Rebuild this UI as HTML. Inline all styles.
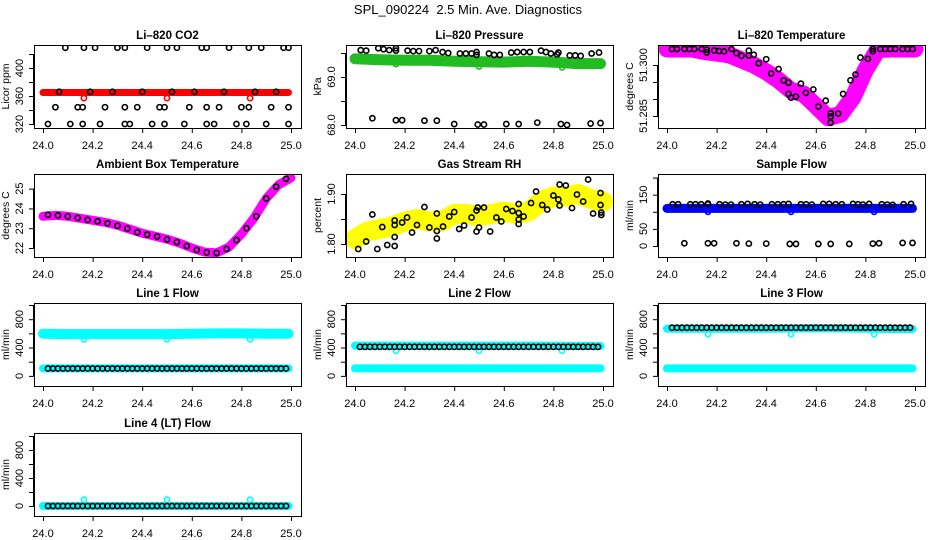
<!DOCTYPE html>
<html><head><meta charset="utf-8"><style>
html,body{margin:0;padding:0;background:#fff;}
svg{display:block;font-family:"Liberation Sans",sans-serif;}
</style></head><body>
<svg id="chart" width="936" height="540" viewBox="0 0 936 540" xmlns="http://www.w3.org/2000/svg">
<text x="468" y="14" text-anchor="middle" font-size="13">SPL_090224&#160; 2.5 Min. Ave. Diagnostics</text>
</svg>
<script>
const xTicks=[24.0,24.2,24.4,24.6,24.8,25.0];
const band11T=[24.0,24.1,24.2,24.3,24.4,24.5,24.6,24.7,24.8,24.9,24.99];
const band21T=[24.0,24.05,24.1,24.15,24.2,24.25,24.3,24.35,24.4,24.45,24.5,24.55,24.6,24.65,24.7,24.75,24.8,24.85,24.9,24.95,25.0];
const outlierT=[24.165,24.5,24.835];

// CO2
const co2Band=[365,365,365,365,365,365,365,365,365,365,365];
const co2Outlier=[357,357,357];
const co2BlackT=[24.09,24.165,24.21,24.30,24.33,24.42,24.50,24.54,24.64,24.66,24.75,24.83,24.88,24.97,24.99,
24.065,24.19,24.28,24.40,24.52,24.61,24.73,24.855,24.94,
24.05,24.14,24.16,24.25,24.33,24.38,24.47,24.49,24.59,24.66,24.71,24.80,24.83,24.92,24.99,
24.02,24.11,24.16,24.23,24.33,24.35,24.44,24.49,24.57,24.66,24.69,24.78,24.82,24.90,24.99];
const co2BlackV=[429,429,429,429,429,429,429,429,429,429,429,429,429,429,429,
366,366,366,366,366,366,366,366,366,
344,344,344,344,344,344,344,344,344,344,344,344,344,344,344,
320,320,320,320,320,320,320,320,320,320,320,320,320,320,320];

// Pressure
const presBand=[69.38,69.36,69.35,69.35,69.33,69.32,69.31,69.33,69.31,69.28,69.28];
const presOutlier=[69.27,69.22,69.2];
const presBlackT=[24.023,24.045,24.094,24.115,24.138,24.165,24.165,24.212,24.235,24.258,24.30,24.325,24.353,24.376,24.423,24.447,24.47,24.49,24.49,24.54,24.561,24.584,24.63,24.654,24.68,24.705,24.75,24.77,24.79,24.815,24.82,24.866,24.888,24.91,24.954,24.984,
24.07,24.165,24.19,24.28,24.33,24.40,24.495,24.52,24.61,24.66,24.735,24.83,24.855,24.95,24.99];
const presBlackV=[69.56,69.55,69.6,69.58,69.56,69.6,69.55,69.55,69.54,69.54,69.54,69.56,69.52,69.5,69.49,69.49,69.49,69.52,69.46,69.49,69.46,69.46,69.51,69.52,69.52,69.52,69.55,69.52,69.49,69.47,69.51,69.45,69.45,69.44,69.49,69.51,
68.14,68.10,68.10,68.09,68.09,68.02,68.01,68.01,68.02,68.02,68.05,68.02,68.0,68.03,68.04];

// Li-820 temperature
const tempBand=[51.3047,51.3047,51.3047,51.304,51.3035,51.303,51.3015,51.300,51.298,51.2955,51.2925,51.2915,51.288,51.2845,51.2855,51.2905,51.2985,51.3045,51.3047,51.3047,51.3047];
const tempBlackT=[24.02,24.04,24.07,24.09,24.11,24.14,24.16,24.16,24.19,24.21,24.23,24.26,24.28,24.30,24.33,24.33,24.35,24.37,24.40,24.42,24.45,24.47,24.49,24.49,24.50,24.52,24.54,24.56,24.59,24.61,24.64,24.66,24.66,24.66,24.69,24.71,24.74,24.76,24.78,24.81,24.83,24.83,24.86,24.88,24.90,24.92,24.95,24.97,24.99];
const tempBlackV=[51.3047,51.3047,51.3047,51.3047,51.3047,51.3047,51.3045,51.3037,51.3043,51.3041,51.304,51.3047,51.3035,51.3027,51.3042,51.3028,51.303,51.3005,51.3017,51.2975,51.2988,51.2955,51.2948,51.2915,51.2904,51.2907,51.2945,51.2918,51.2928,51.2878,51.2895,51.2858,51.2848,51.2830,51.2857,51.2915,51.2955,51.2972,51.3022,51.3018,51.3047,51.3040,51.3047,51.3047,51.3047,51.3047,51.3047,51.3047,51.3047];

// Ambient box temperature
const ambBand=[23.6,23.65,23.6,23.5,23.4,23.3,23.15,22.95,22.75,22.6,22.45,22.25,22.0,21.8,21.75,22.05,22.7,23.5,24.5,25.2,25.55];
const ambBlackT=[24.02,24.06,24.10,24.14,24.18,24.22,24.26,24.30,24.34,24.38,24.42,24.46,24.50,24.54,24.58,24.62,24.66,24.70,24.74,24.78,24.82,24.86,24.90,24.94,24.98];
const ambBlackV=[23.68,23.65,23.6,23.52,23.42,23.35,23.25,23.12,22.98,22.8,22.68,22.58,22.43,22.3,22.1,21.9,21.78,21.75,21.95,22.4,23.0,23.6,24.5,25.1,25.5];

// Gas stream RH
const rhBand=[1.81,1.825,1.83,1.835,1.845,1.85,1.845,1.845,1.86,1.86,1.855,1.86,1.865,1.86,1.865,1.885,1.895,1.895,1.9,1.89,1.885];
const rhBlackT=[24.013,24.045,24.07,24.09,24.11,24.13,24.16,24.16,24.16,24.16,24.19,24.21,24.23,24.25,24.28,24.30,24.33,24.33,24.33,24.355,24.38,24.40,24.42,24.44,24.47,24.49,24.49,24.495,24.50,24.52,24.545,24.57,24.59,24.61,24.635,24.66,24.66,24.66,24.66,24.68,24.71,24.73,24.755,24.775,24.80,24.82,24.825,24.825,24.85,24.875,24.895,24.92,24.94,24.96,24.99,24.99,24.993,24.993];
const rhBlackV=[1.79,1.805,1.859,1.79,1.834,1.798,1.838,1.814,1.796,1.847,1.843,1.853,1.823,1.838,1.874,1.833,1.826,1.861,1.811,1.835,1.855,1.864,1.83,1.837,1.853,1.867,1.825,1.873,1.833,1.873,1.825,1.853,1.845,1.870,1.866,1.88,1.849,1.862,1.84,1.855,1.882,1.905,1.878,1.869,1.897,1.889,1.919,1.877,1.917,1.872,1.899,1.885,1.929,1.861,1.902,1.878,1.863,1.858];

// Sample flow
const sfBand=[110,110,110,110,110,110,110,110,110,110,110];
const sfOutlier=[100,100,100];
const sfBlackT=[24.023,24.045,24.094,24.115,24.138,24.165,24.165,24.212,24.235,24.258,24.30,24.325,24.353,24.376,24.423,24.447,24.47,24.49,24.54,24.561,24.584,24.63,24.654,24.68,24.705,24.75,24.77,24.79,24.815,24.866,24.888,24.91,24.954,24.984,
24.07,24.165,24.19,24.28,24.33,24.40,24.495,24.52,24.61,24.66,24.735,24.83,24.855,24.95,24.99];
const sfBlackV=[122,122,122,122,122,124,122,122,121,121,122,123,122,121,122,122,122,123,122,122,121,123,123,122,122,123,122,121,123,122,121,120,122,123,
8,8,8,8,7,7,6,6,6,6,6,7,8,9,9];

// Line flows
const flowBlackT=[24.02,24.04,24.06,24.08,24.10,24.12,24.14,24.16,24.18,24.20,24.22,24.24,24.26,24.28,24.30,24.32,24.34,24.36,24.38,24.40,24.42,24.44,24.46,24.48,24.50,24.52,24.54,24.56,24.58,24.60,24.62,24.64,24.66,24.68,24.70,24.72,24.74,24.76,24.78,24.80,24.82,24.84,24.86,24.88,24.90,24.92,24.94,24.96,24.98];
const line1Upper=[595,590,590,590,590,590,595,600,600,595,595];
const line1Lower=[105,105,105,105,105,105,105,105,105,105,105];
const line1Outlier=[515,515,515];
const line1Black=[104,104,104,104,104,104,104,104,104,104,104,104,104,104,104,104,104,104,104,104,104,104,104,104,104,104,104,104,104,104,104,104,104,104,104,104,104,104,104,104,104,104,104,104,104,104,104,104,104];
const line2Upper=[428,428,428,428,428,428,428,428,425,422,422];
const line2Lower=[105,105,105,105,105,105,105,105,105,105,105];
const line2Outlier=[355,355,355];
const line2Black=[410,410,410,410,410,410,410,410,410,410,410,410,410,410,410,410,410,410,410,410,410,410,410,410,410,410,410,410,410,410,410,410,410,410,410,410,410,410,410,410,410,410,410,410,410,410,410,410,410];
const line3Upper=[665,665,665,665,665,668,670,670,665,662,662];
const line3Lower=[105,105,105,105,105,105,105,105,105,105,105];
const line3Outlier=[590,590,590];
const line3Black=[680,680,680,680,680,680,680,680,680,680,680,680,680,680,680,680,680,680,680,680,680,680,680,680,680,680,680,680,680,680,680,680,680,680,680,680,680,680,680,680,680,680,680,680,680,680,680,680,680];
const line4Cyan=[0,0,0,0,0,0,0,0,0,0,0];
const line4Outlier=[90,90,90];
const line4Black=[0,0,0,0,0,0,0,0,0,0,0,0,0,0,0,0,0,0,0,0,0,0,0,0,0,0,0,0,0,0,0,0,0,0,0,0,0,0,0,0,0,0,0,0,0,0,0,0,0];

const NS="http://www.w3.org/2000/svg";
const svg=document.getElementById('chart');
const ROWTOP=[45,174,303,433];
function mk(tag,parent,attrs){const e=document.createElementNS(NS,tag);for(const k in attrs)e.setAttribute(k,attrs[k]);parent.appendChild(e);return e;}

function makePanel(col,row,name,title,ylab,ylo,yhi,ticks,labels){
  const left=34+312*col,right=left+267,top=ROWTOP[row],bottom=top+83;
  const g=mk('g',svg,{});
  
  
  const xs=t=>left+9+(t-24)*248;
  const ys=v=>bottom-(v-ylo)/(yhi-ylo)*83;
  const t=mk('text',g,{x:(left+right)/2,y:top-6,'text-anchor':'middle','font-size':'11.5','font-weight':'bold'});
  t.textContent=title;
  
  
  const plot=mk('g',g,{});
  
  
  const cp='clip'+name;
  const cl=mk('clipPath',g,{id:cp});mk('rect',cl,{x:left,y:top,width:267,height:83});
  plot.setAttribute('clip-path','url(#'+cp+')');
  const box=mk('rect',g,{x:left+0.5,y:top+0.5,width:267,height:83,fill:'none',stroke:'#000','stroke-width':1});
  
  
  const xa=mk('g',g,{});
  
  
  mk('line',xa,{x1:xs(24),x2:xs(25),y1:bottom+0.5,y2:bottom+0.5,stroke:'#000'});
  xTicks.forEach(v=>{
    mk('line',xa,{x1:xs(v)+0.5,x2:xs(v)+0.5,y1:bottom,y2:bottom+5,stroke:'#000'});
    const l=mk('text',xa,{x:xs(v),y:bottom+21,'text-anchor':'middle','font-size':'11'});
    l.textContent=v.toFixed(1);
    
    
  });
  const ya=mk('g',g,{});
  
  
  mk('line',ya,{x1:left-0.5,x2:left-0.5,y1:ys(ticks[0]),y2:ys(ticks[ticks.length-1]),stroke:'#000'});
  ticks.forEach(v=>{mk('line',ya,{x1:left-5,x2:left,y1:ys(v)+0.5,y2:ys(v)+0.5,stroke:'#000'});});
  labels.forEach(s=>{
    const y=ys(parseFloat(s));
    const l=mk('text',ya,{x:left-11,y:y,'text-anchor':'middle','font-size':'11',transform:'rotate(-90 '+(left-11)+' '+y+')'});
    l.textContent=s;
    
    
  });
  const yl=mk('text',g,{x:left-25,y:(top+bottom)/2,'text-anchor':'middle','font-size':'10.5',transform:'rotate(-90 '+(left-25)+' '+((top+bottom)/2)+')'});
  yl.textContent=ylab;
  
  
  return {plot,xs,ys};
}
function band(p,T,V,color,w,name){
  const pts=T.map((t,i)=>p.xs(t).toFixed(1)+','+p.ys(V[i]).toFixed(1)).join(' ');
  const e=mk('polyline',p.plot,{points:pts,fill:'none',stroke:color,'stroke-width':w,'stroke-linecap':'round','stroke-linejoin':'round'});
  
  
}
function pts(p,T,V,color,r,sw,name){
  T.forEach((t,i)=>{
    const c=mk('circle',p.plot,{cx:p.xs(t),cy:p.ys(V[i]),r:r,fill:'none',stroke:color,'stroke-width':sw});
    
    
  });
}

let p;
p=makePanel(0,0,'co2','Li\u2013820 CO2','Licor ppm',314.3,432.9,[320,340,360,380,400,420],['320','360','400']);
band(p,band11T,co2Band,'#ff0000',7,'co2-band');
pts(p,outlierT,co2Outlier,'#ff0000',2.6,1.6,'co2-outlier');
pts(p,co2BlackT,co2BlackV,'#000',2.6,1.6,'co2-point');

p=makePanel(1,0,'pressure','Li\u2013820 Pressure','kPa',67.9375,69.667,[68,68.5,69,69.5],['68.0','69.0']);
band(p,band11T,presBand,'#22bb22',11,'pressure-band');
pts(p,outlierT,presOutlier,'#22bb22',2.6,1.6,'pressure-outlier');
pts(p,presBlackT,presBlackV,'#000',2.6,1.6,'pressure-point');

p=makePanel(2,0,'li820-temp','Li\u2013820 Temperature','degrees C',51.28147,51.30588,[51.285,51.29,51.295,51.3],['51.285','51.300']);
band(p,band21T,tempBand,'#ff00ff',17,'li820-temp-band');
pts(p,band21T,tempBand,'#ff00ff',3,1.6,'li820-temp-magenta-point');
pts(p,tempBlackT,tempBlackV,'#000',2.6,1.6,'li820-temp-point');

p=makePanel(0,1,'ambient','Ambient Box Temperature','degrees C',21.545,25.74,[22,23,24,25],['22','23','24','25']);
band(p,band21T,ambBand,'#ff00ff',9,'ambient-band');
pts(p,ambBlackT,ambBlackV,'#000',2.6,1.6,'ambient-point');

p=makePanel(1,1,'rh','Gas Stream RH','percent',1.774,1.94,[1.8,1.85,1.9],['1.80','1.90']);
band(p,band21T,rhBand,'#ffff00',20,'rh-band');
pts(p,rhBlackT,rhBlackV,'#000',2.6,1.6,'rh-point');

p=makePanel(2,1,'sample-flow','Sample Flow','ml/min',-32.2,210.5,[0,50,100,150,200],['0','50','150']);
band(p,band11T,sfBand,'#0000ff',9,'sample-flow-band');
pts(p,outlierT,sfOutlier,'#0000ff',2.6,1.6,'sample-flow-outlier');
pts(p,sfBlackT,sfBlackV,'#000',2.6,1.6,'sample-flow-point');

const FT=[0,200,400,600,800,1000],FL=['0','400','800'];
p=makePanel(0,2,'line1','Line 1 Flow','ml/min',-142.9,1028.6,FT,FL);
band(p,band11T,line1Upper,'#00ffff',10,'line1-upper-band');
band(p,band11T,line1Lower,'#00ffff',8,'line1-lower-band');
pts(p,outlierT,line1Outlier,'#00ffff',2.6,1.6,'line1-outlier');
pts(p,flowBlackT,line1Black,'#000',2.6,1.6,'line1-point');

p=makePanel(1,2,'line2','Line 2 Flow','ml/min',-142.9,1028.6,FT,FL);
band(p,band11T,line2Upper,'#00ffff',8,'line2-upper-band');
band(p,band11T,line2Lower,'#00ffff',8,'line2-lower-band');
pts(p,outlierT,line2Outlier,'#00ffff',2.6,1.6,'line2-outlier');
pts(p,flowBlackT,line2Black,'#000',2.6,1.6,'line2-point');

p=makePanel(2,2,'line3','Line 3 Flow','ml/min',-142.9,1028.6,FT,FL);
band(p,band11T,line3Upper,'#00ffff',8,'line3-upper-band');
band(p,band11T,line3Lower,'#00ffff',8,'line3-lower-band');
pts(p,outlierT,line3Outlier,'#00ffff',2.6,1.6,'line3-outlier');
pts(p,flowBlackT,line3Black,'#000',2.6,1.6,'line3-point');

p=makePanel(0,3,'line4','Line 4 (LT) Flow','ml/min',-142.9,1043,FT,FL);
band(p,band11T,line4Cyan,'#00ffff',8,'line4-band');
pts(p,outlierT,line4Outlier,'#00ffff',2.6,1.6,'line4-outlier');
pts(p,flowBlackT,line4Black,'#000',2.6,1.6,'line4-point');
</script>
</body></html>
